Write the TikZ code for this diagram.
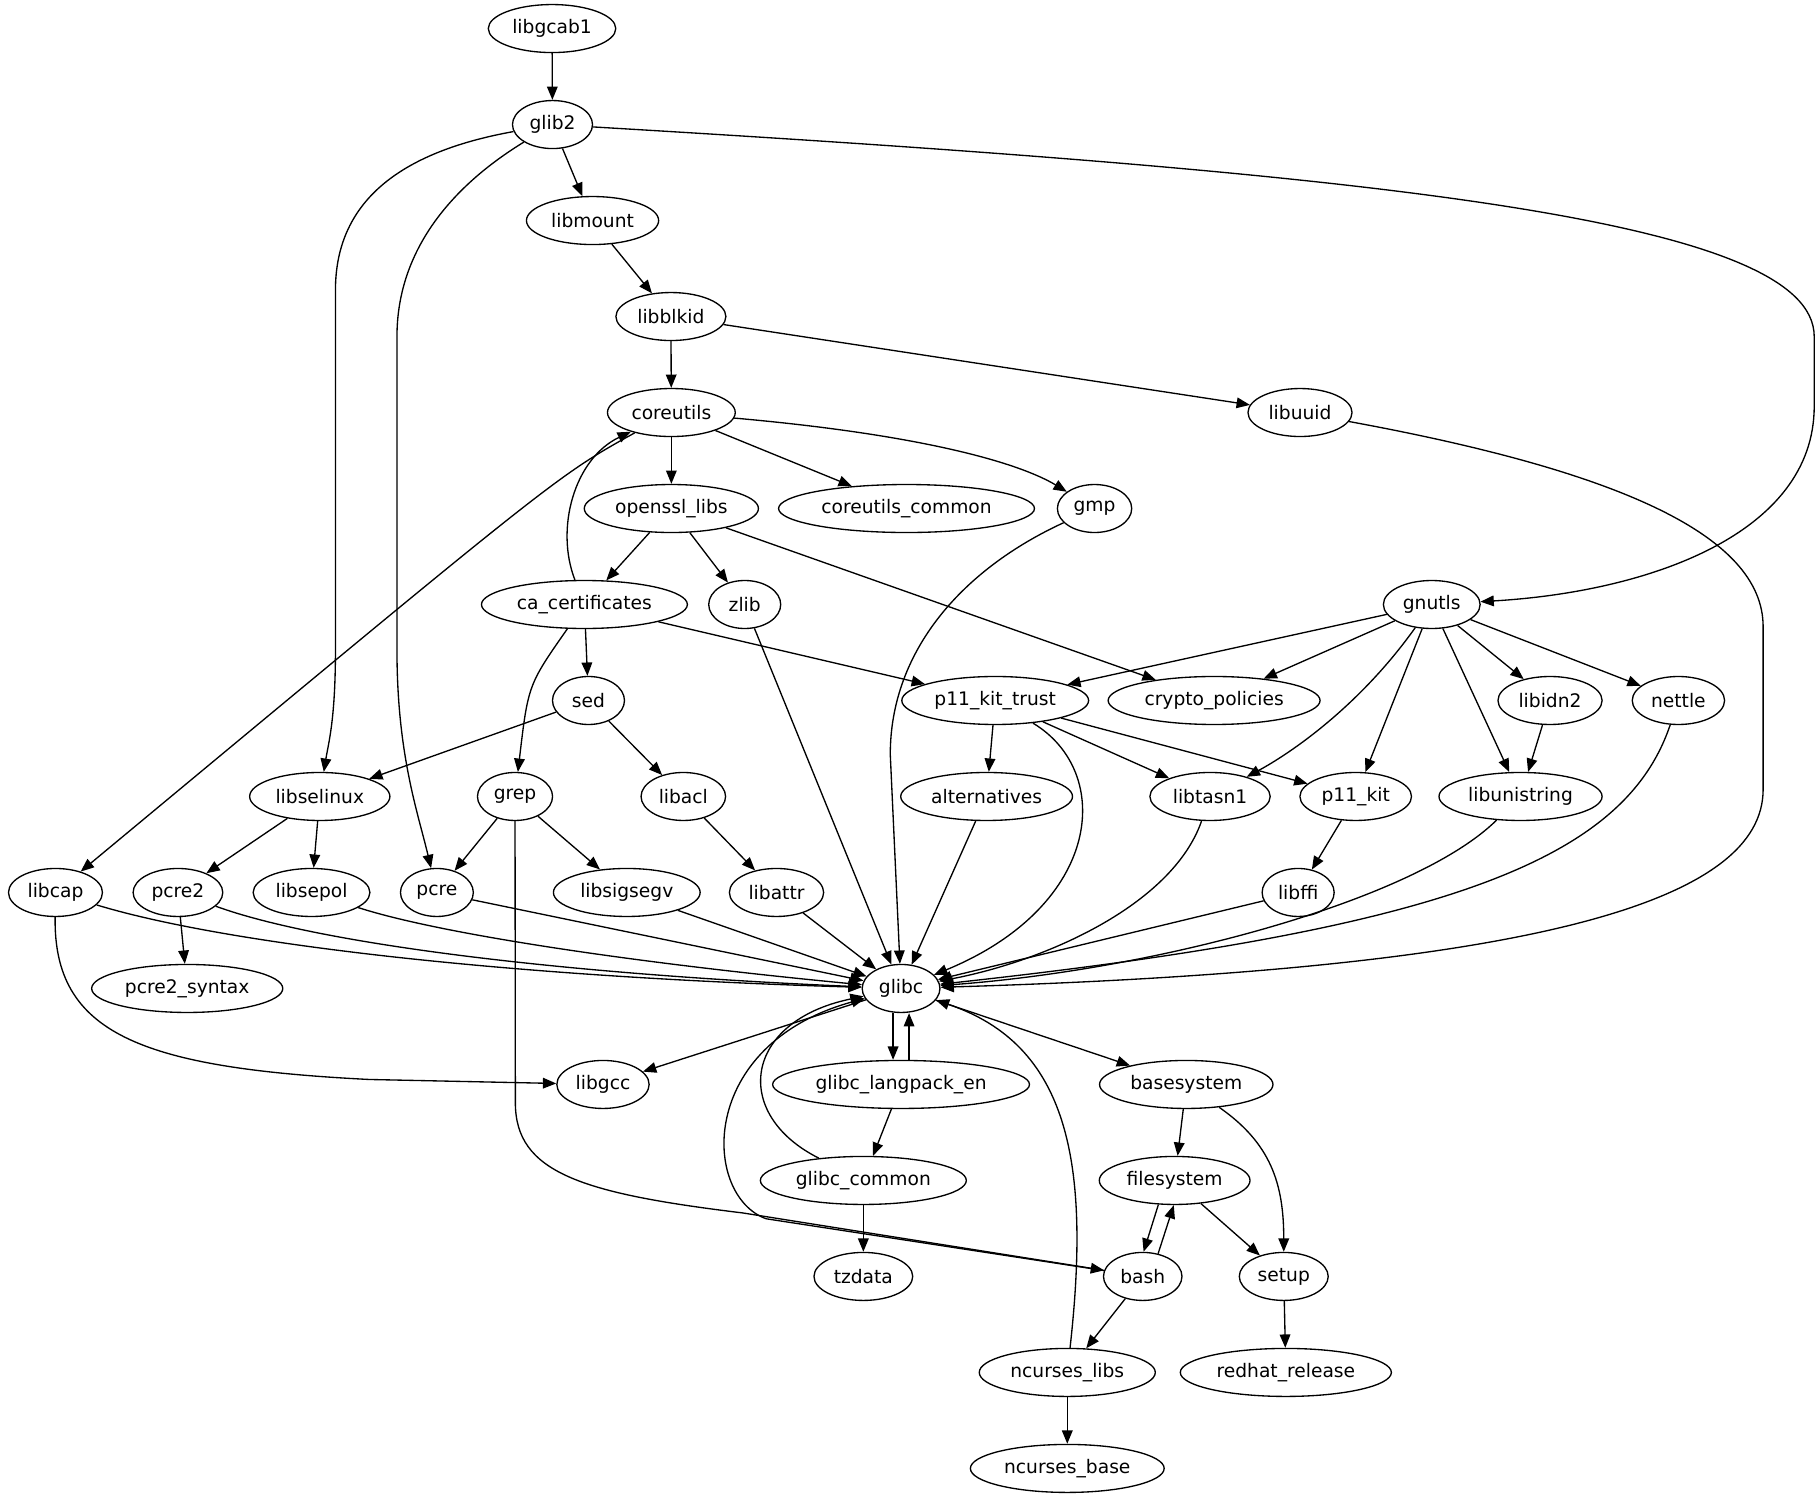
\documentclass[tikz,border=0pt]{standalone}
\usepackage{fontspec}
\setmainfont{DejaVu Sans}
\usetikzlibrary{shapes.geometric,arrows.meta}

\begin{document}
\begin{tikzpicture}[x=0.8706pt,y=-0.8706pt]
\tikzset{pkg/.style={draw,ellipse,line width=1pt,inner xsep=4pt,inner ysep=2pt,minimum width=54pt,minimum height=36pt,font=\fontsize{14}{16}\selectfont}}
\tikzset{dep/.style={line width=1pt,-{Triangle[length=10pt,width=8pt]}}}
\useasboundingbox (0,0) rectangle (1568,1291);

\node[pkg] (libgcab) at (475.6,24.6) {libgcab1};
\node[pkg] (glib) at (476,107.3) {glib2};
\node[pkg] (libmount) at (510.5,190) {libmount};
\node[pkg] (libblkid) at (578,272.7) {libblkid};
\node[pkg] (coreutils) at (578.4,355.4) {coreutils};
\node[pkg] (libuuid) at (1120,355.4) {libuuid};
\node[pkg] (openssl) at (578.4,438.1) {openssl\_libs};
\node[pkg] (cucommon) at (781,438.1) {coreutils\_common};
\node[pkg] (gmp) at (943,438.1) {gmp};
\node[pkg] (cacerts) at (503.5,520.8) {ca\_certificates};
\node[pkg] (zlib) at (641.6,520.8) {zlib};
\node[pkg] (gnutls) at (1233.5,520.8) {gnutls};
\node[pkg] (sed) at (507,603.5) {sed};
\node[pkg] (p11trust) at (857.4,603.5) {p11\_kit\_trust};
\node[pkg] (cryptopol) at (1046,603.5) {crypto\_policies};
\node[pkg] (libidn) at (1335.4,603.5) {libidn2};
\node[pkg] (nettle) at (1446,603.5) {nettle};
\node[pkg] (libselinux) at (275.5,686.2) {libselinux};
\node[pkg] (grep) at (443.7,686.2) {grep};
\node[pkg] (libacl) at (588.7,686.2) {libacl};
\node[pkg] (alternatives) at (850,686.2) {alternatives};
\node[pkg] (libtasn) at (1042.5,686.2) {libtasn1};
\node[pkg] (p11kit) at (1168,686.2) {p11\_kit};
\node[pkg] (libunistring) at (1310,686.2) {libunistring};
\node[pkg] (libcap) at (47.8,768.9) {libcap};
\node[pkg] (pcretwo) at (153.3,768.9) {pcre2};
\node[pkg] (libsepol) at (268.4,768.9) {libsepol};
\node[pkg] (pcre) at (376.4,768.9) {pcre};
\node[pkg] (libsigsegv) at (540,768.9) {libsigsegv};
\node[pkg] (libattr) at (669,768.9) {libattr};
\node[pkg] (libffi) at (1118.4,768.9) {libffi};
\node[pkg] (pcresyntax) at (161.3,851.6) {pcre2\_syntax};
\node[pkg] (glibc) at (776.3,851.6) {glibc};
\node[pkg] (libgcc) at (519.5,934.3) {libgcc};
\node[pkg] (langpack) at (776.3,934.3) {glibc\_langpack\_en};
\node[pkg] (basesystem) at (1022,934.3) {basesystem};
\node[pkg] (glibccommon) at (743.8,1017) {glibc\_common};
\node[pkg] (filesystem) at (1012,1017) {filesystem};
\node[pkg] (tzdata) at (743.8,1099.7) {tzdata};
\node[pkg] (bash) at (984.5,1099.7) {bash};
\node[pkg] (setup) at (1106,1099.7) {setup};
\node[pkg] (ncurseslibs) at (919.5,1182.4) {ncurses\_libs};
\node[pkg] (redhat) at (1107.8,1182.4) {redhat\_release};
\node[pkg] (ncursesbase) at (919.5,1265.1) {ncurses\_base};

\draw[dep] (libgcab) -- (glib);
\draw[dep] (glib) -- (libmount);
\draw[dep] (glib) .. controls (350,130) and (289,170) .. (289,250) -- (289,560) .. controls (289,620) and (283,640) .. (libselinux);
\draw[dep] (glib) .. controls (390,160) and (342,215) .. (342,290) -- (342,560) .. controls (342,650) and (360,700) .. (pcre);
\draw[dep] (glib) .. controls (1200,150) and (1563,190) .. (1563,290) -- (1563,350) .. controls (1563,460) and (1420,510) .. (gnutls);
\draw[dep] (libmount) -- (libblkid);
\draw[dep] (libblkid) -- (coreutils);
\draw[dep] (libblkid) -- (libuuid);
\draw[dep] (libuuid) .. controls (1390,405) and (1519,460) .. (1519,540) -- (1519,680) .. controls (1519,775) and (1330,835) .. (glibc);
\draw[dep] (coreutils) -- (openssl);
\draw[dep] (coreutils) -- (cucommon);
\draw[dep] (coreutils) .. controls (800,375) and (880,400) .. (gmp);
\draw[dep] (coreutils) .. controls (480,410) .. (libcap);
\draw[dep] (cacerts) .. controls (478,455) and (495,395) .. (coreutils);
\draw[dep] (openssl) -- (cacerts);
\draw[dep] (openssl) -- (zlib);
\draw[dep] (openssl) -- (cryptopol);
\draw[dep] (gmp) .. controls (830,490) and (767,560) .. (767,650) -- (glibc);
\draw[dep] (cacerts) -- (sed);
\draw[dep] (cacerts) .. controls (455,590) .. (grep);
\draw[dep] (cacerts) -- (p11trust);
\draw[dep] (zlib) -- (glibc);
\draw[dep] (gnutls) -- (p11trust);
\draw[dep] (gnutls) -- (cryptopol);
\draw[dep] (gnutls) .. controls (1170,610) and (1110,650) .. (libtasn);
\draw[dep] (gnutls) -- (p11kit);
\draw[dep] (gnutls) -- (libunistring);
\draw[dep] (gnutls) -- (libidn);
\draw[dep] (gnutls) -- (nettle);
\draw[dep] (sed) -- (libselinux);
\draw[dep] (sed) -- (libacl);
\draw[dep] (p11trust) -- (alternatives);
\draw[dep] (p11trust) .. controls (960,665) and (950,780) .. (glibc);
\draw[dep] (p11trust) -- (libtasn);
\draw[dep] (p11trust) -- (p11kit);
\draw[dep] (libidn) -- (libunistring);
\draw[dep] (nettle) .. controls (1400,740) and (1250,800) .. (glibc);
\draw[dep] (libselinux) -- (pcretwo);
\draw[dep] (libselinux) -- (libsepol);
\draw[dep] (grep) -- (pcre);
\draw[dep] (grep) -- (libsigsegv);
\draw[dep] (grep) -- (444,950) .. controls (444,1010) and (500,1028) .. (640,1045) -- (bash);
\draw[dep] (libacl) -- (libattr);
\draw[dep] (alternatives) -- (glibc);
\draw[dep] (libtasn) .. controls (1010,780) and (900,828) .. (glibc);
\draw[dep] (p11kit) -- (libffi);
\draw[dep] (libunistring) .. controls (1220,775) and (1000,835) .. (glibc);
\draw[dep] (libcap) .. controls (200,815) and (450,842) .. (glibc);
\draw[dep] (libcap) .. controls (46,890) and (120,920) .. (318,930) -- (libgcc);
\draw[dep] (pcretwo) .. controls (280,815) and (500,840) .. (glibc);
\draw[dep] (pcretwo) -- (pcresyntax);
\draw[dep] (libsepol) .. controls (380,805) and (550,830) .. (glibc);
\draw[dep] (pcre) -- (glibc);
\draw[dep] (libsigsegv) -- (glibc);
\draw[dep] (libattr) -- (glibc);
\draw[dep] (libffi) -- (glibc);
\draw[dep] (glibc) -- (libgcc);
\draw[dep] ([xshift=-6pt]glibc.south) -- ([xshift=-6pt]langpack.north);
\draw[dep] ([xshift=6pt]langpack.north) -- ([xshift=6pt]glibc.south);
\draw[dep] (glibc) -- (basesystem);
\draw[dep] (langpack) -- (glibccommon);
\draw[dep] (glibccommon) .. controls (630,960) and (640,880) .. (glibc);
\draw[dep] (glibccommon) -- (tzdata);
\draw[dep] (basesystem) -- (filesystem);
\draw[dep] (basesystem) .. controls (1095,985) and (1106,1020) .. (setup);
\draw[dep] (filesystem.236) -- (bash.88);
\draw[dep] (bash.56) -- (filesystem.268);
\draw[dep] (filesystem) -- (setup);
\draw[dep] (bash) -- (660,1050) .. controls (605,1030) and (600,900) .. (glibc);
\draw[dep] (bash) -- (ncurseslibs);
\draw[dep] (ncurseslibs) .. controls (940,1000) and (920,900) .. (glibc);
\draw[dep] (ncurseslibs) -- (ncursesbase);
\draw[dep] (setup) -- (redhat);
\end{tikzpicture}
\end{document}
